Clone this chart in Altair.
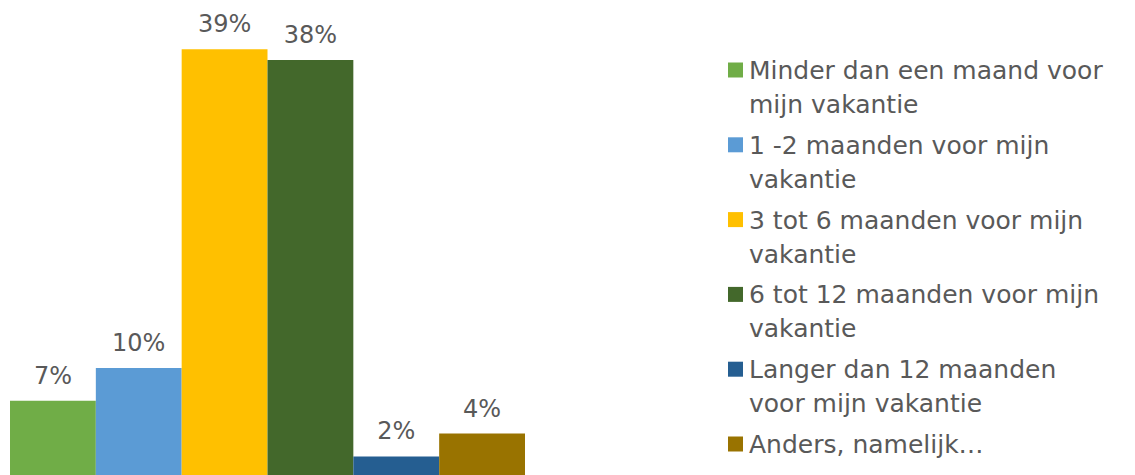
import altair as alt
import pandas as pd

categories = [
    "Minder dan een maand voor|mijn vakantie",
    "1 -2 maanden voor mijn|vakantie",
    "3 tot 6 maanden voor mijn|vakantie",
    "6 tot 12 maanden voor mijn|vakantie",
    "Langer dan 12 maanden|voor mijn vakantie",
    "Anders, namelijk…",
]
values = [6.8, 9.8, 39.0, 38.0, 1.7, 3.8]
labels = ["7%", "10%", "39%", "38%", "2%", "4%"]
colors = ["#70AD47", "#5B9BD5", "#FFC000", "#43682B", "#255E91", "#997300"]

df = pd.DataFrame({"cat": categories, "value": values, "label": labels})

FONT = "DejaVu Sans"
TXT = "#595959"

color_enc = alt.Color("cat:N", sort=categories, legend=None,
                      scale=alt.Scale(domain=categories, range=colors))

base = alt.Chart(df).encode(
    x=alt.X("cat:N", sort=categories, axis=None,
            scale=alt.Scale(paddingInner=0, paddingOuter=0)),
    y=alt.Y("value:Q", axis=None,
            scale=alt.Scale(domain=[0, 42.77], nice=False, zero=True)),
)

bars = base.mark_bar(strokeWidth=0).encode(color=color_enc)
text = base.mark_text(dy=-17, baseline="alphabetic", fontSize=24,
                      font=FONT, color=TXT).encode(text="label:N")

plot = (bars + text).properties(width=515, height=467)

# legend panel
lbase = alt.Chart(df).encode(
    y=alt.Y("cat:N", sort=categories, axis=None,
            scale=alt.Scale(type="point", padding=0, range=[62, 436])),
)
lsym = lbase.mark_square(size=225, opacity=1, strokeWidth=0).encode(
    x=alt.value(210.5), color=color_enc)
ltxt = lbase.mark_text(align="left", baseline="alphabetic", dy=9,
                       fontSize=25, font=FONT, color=TXT,
                       lineBreak="|", lineHeight=34).encode(
    x=alt.value(224), text="cat:N")
legend = (lsym + ltxt).properties(width=600, height=467)

chart = alt.hconcat(plot, legend, spacing=0).properties(
    padding={"left": 2, "top": 0, "right": 0, "bottom": 0},
).configure_view(stroke=None)

chart.save("out.html", embed_options={"renderer": "svg", "actions": False})
